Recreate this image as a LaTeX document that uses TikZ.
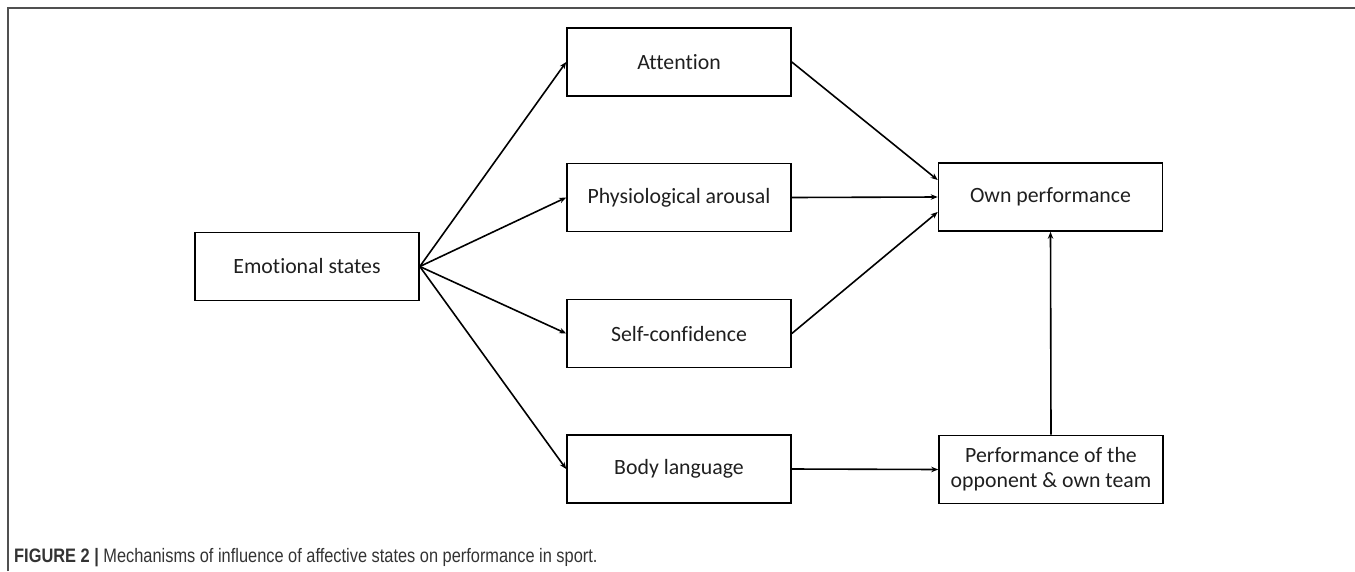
\documentclass[tikz,border=0pt]{standalone}
\usepackage{fontspec}
\setmainfont[Ligatures=NoCommon]{Carlito}
\newfontfamily\capfont[FakeStretch=0.84]{Liberation Sans}
\usetikzlibrary{arrows.meta,calc}
\definecolor{framegray}{HTML}{505050}
\definecolor{capgray}{HTML}{333333}
\begin{document}
\begin{tikzpicture}[x=1pt,y=-1pt,
  box/.style={draw=black,line width=1.6pt,minimum width=224pt,minimum height=68pt,
    inner sep=0pt,align=center,font=\fontsize{21.8}{25}\selectfont,text=black!88},
  arr/.style={line width=1.6pt,-{Stealth[length=7pt,width=5.5pt]}}]
\useasboundingbox (0,0) rectangle (1355,571);
\draw[framegray,line width=1.8pt] (8,571) -- (8,8) -- (1355,8);
\node[box] (emo) at (307,266.5) {Emotional states};
\node[box] (att) at (679,62) {Attention};
\node[box] (phys) at (679,197.5) {Physiological arousal};
\node[box] (self) at (679,333.5) {Self-confidence};
\node[box] (body) at (679,469) {Body language};
\node[box] (own) at (1050.5,197) {Own performance};
\node[box] (opp) at (1051,469.5) {Performance of the\\opponent \& own team};
\draw[arr] (emo.east) -- (att.west);
\draw[arr] (emo.east) -- (phys.west);
\draw[arr] (emo.east) -- (self.west);
\draw[arr] (emo.east) -- (body.west);
\draw[arr] (att.east) -- ($(own.west)+(0,-17)$);
\draw[arr] (phys.east) -- (own.west);
\draw[arr] (self.east) -- ($(own.west)+(0,15)$);
\draw[arr] (body.east) -- (opp.west);
\draw[arr] (opp.north) -- (own.south);
\node[anchor=base west,inner sep=0pt,text=capgray,font=\capfont\fontsize{19.5}{22}\selectfont] (cap) at (14,562)
  {\textbf{FIGURE 2 |} Mechanisms of influence of affective states on performance in sport.};
\end{tikzpicture}
\end{document}
